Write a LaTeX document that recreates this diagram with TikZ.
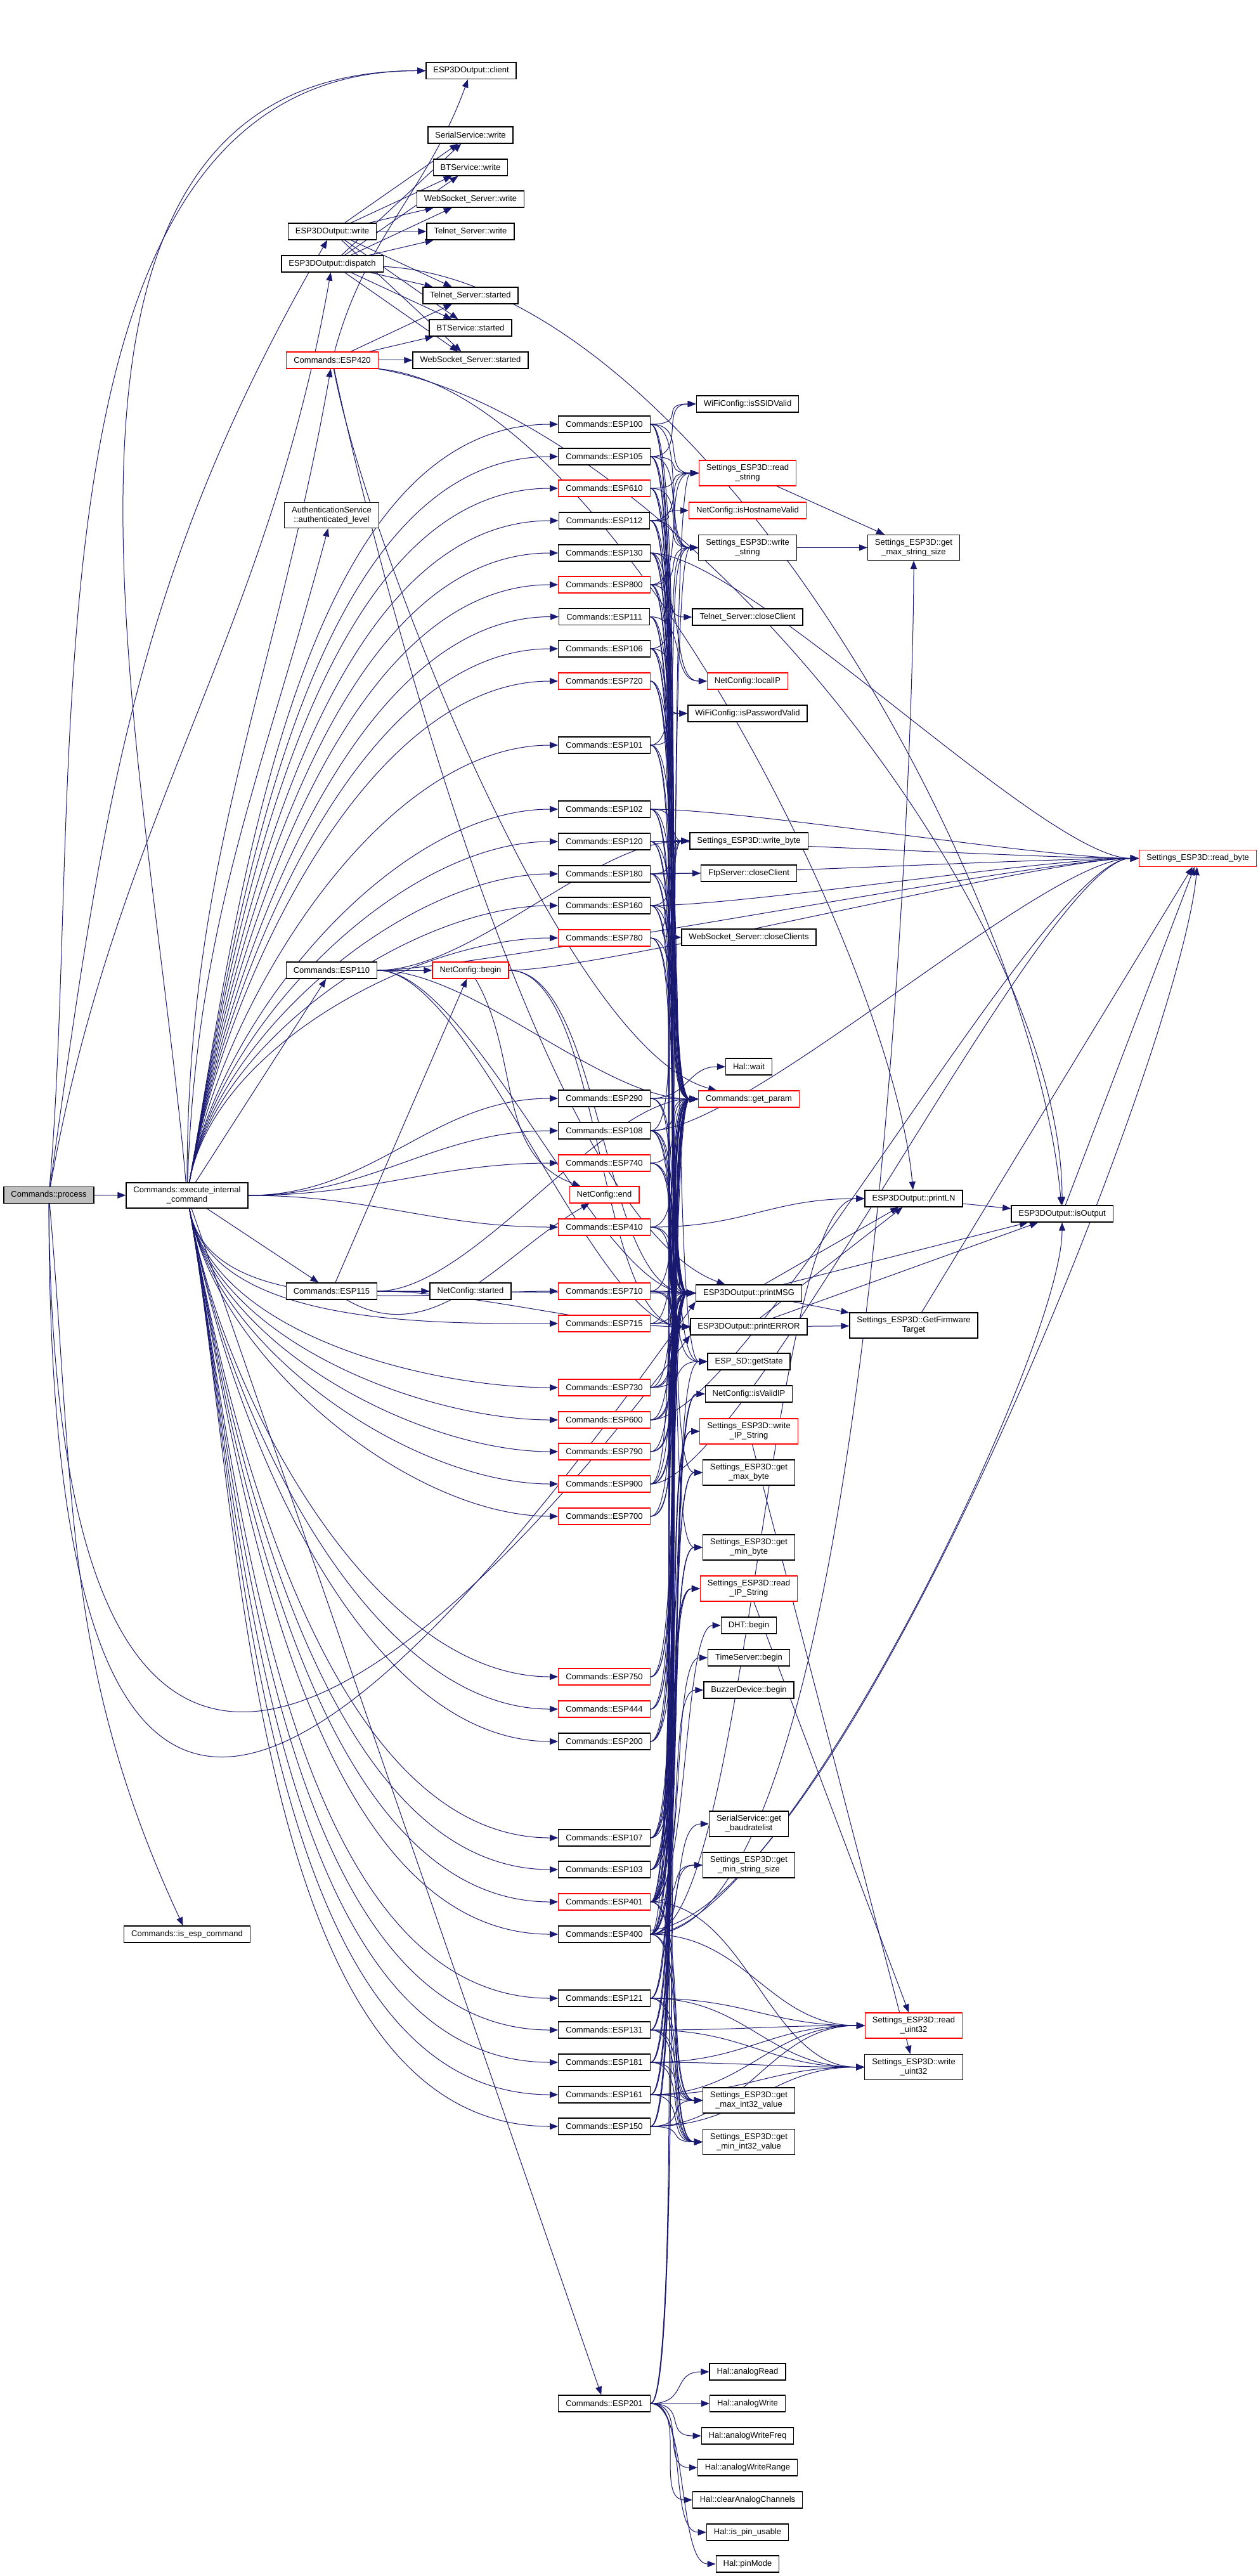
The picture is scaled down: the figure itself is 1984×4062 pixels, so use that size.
\documentclass[tikz,border=0pt]{standalone}
\usepackage{fontspec}
\setmainfont{Liberation Sans}
\usepackage{tikz}
\usetikzlibrary{arrows.meta,backgrounds}
\definecolor{edgeblue}{HTML}{191970}
\newcommand{\graphfont}{\fontsize{2.6}{3}\selectfont}

\begin{document}
\begin{tikzpicture}[x=0.2pt,y=0.2pt]
\tikzstyle{fnbox}=[draw=black,line width=0.26pt,fill=white,inner xsep=2.3pt,inner ysep=0.8pt,minimum height=5.2pt,align=center,font=\graphfont]
\tikzstyle{twoline}=[minimum height=8pt]
\tikzstyle{fntrunc}=[fnbox,draw=red]
\tikzstyle{fnroot}=[fnbox,fill=gray!50]
\tikzstyle{callarr}=[draw=edgeblue,line width=0.2pt,-{Triangle[length=2.6pt,width=2pt]}]
\useasboundingbox (0,0) rectangle (1984,-4062);

% callers
\node[fnroot] (proc) at (77,-1884.5) {Commands::process};
\node[fnbox,twoline] (exec) at (295,-1885) {Commands::execute\_internal\\\_command};
\node[fnbox] (isesp) at (295,-3050) {Commands::is\_esp\_command};

\node[fnbox] (owrite) at (524,-365) {ESP3DOutput::write};
\node[fnbox] (odispatch) at (524,-416) {ESP3DOutput::dispatch};
\node[fntrunc] (e420) at (524,-568) {Commands::ESP420};
\node[fnbox,twoline] (auth) at (523,-812.5) {AuthenticationService\\::authenticated\_level};
\node[fnbox] (e110) at (523,-1530) {Commands::ESP110};
\node[fnbox] (e115) at (523,-2036) {Commands::ESP115};

\node[fnbox] (oclient) at (743,-111.5) {ESP3DOutput::client};
\node[fnbox] (serwrite) at (742,-213) {SerialService::write};
\node[fnbox] (btwrite) at (742,-264) {BTService::write};
\node[fnbox] (wswrite) at (742,-314) {WebSocket\_Server::write};
\node[fnbox] (tnwrite) at (742,-365) {Telnet\_Server::write};
\node[fnbox] (tnstarted) at (742,-466) {Telnet\_Server::started};
\node[fnbox] (btstarted) at (742,-517) {BTService::started};
\node[fnbox] (wsstarted) at (742,-568) {WebSocket\_Server::started};
\node[fntrunc] (netbegin) at (742,-1530) {NetConfig::begin};
\node[fnbox] (netstarted) at (742,-2036) {NetConfig::started};

% commands
\foreach \n/\y/\s in {100/669/fnbox,105/720/fnbox,610/770/fntrunc,112/821/fnbox,130/872/fnbox,
  800/922/fntrunc,111/972.5/fnbox,106/1023/fnbox,720/1074/fntrunc,101/1175/fnbox,102/1276/fnbox,
  120/1327/fnbox,180/1378/fnbox,160/1428/fnbox,780/1479/fntrunc,290/1732/fnbox,108/1783/fnbox,
  740/1834/fntrunc,410/1935/fntrunc,710/2036/fntrunc,715/2087/fntrunc,730/2188/fntrunc,
  600/2239/fntrunc,790/2289/fntrunc,900/2340/fntrunc,700/2391/fntrunc,750/2644/fntrunc,
  444/2695/fntrunc,200/2746/fnbox,107/2898/fnbox,103/2948/fnbox,401/2999/fntrunc,400/3050/fnbox,
  121/3151/fnbox,131/3201/fnbox,181/3252/fnbox,161/3303/fnbox,150/3353/fnbox,201/3790/fnbox}
  \node[\s] (e\n) at (953,-\y) {Commands::ESP\n};
\node[fntrunc] (netend) at (953,-1884) {NetConfig::end};

% callees
\node[fnbox] (ssidvalid) at (1179,-637) {WiFiConfig::isSSIDValid};
\node[fntrunc,twoline] (readstr) at (1179,-746) {Settings\_ESP3D::read\\\_string};
\node[fntrunc] (hostvalid) at (1179,-805) {NetConfig::isHostnameValid};
\node[fnbox,twoline] (writestr) at (1179,-863.5) {Settings\_ESP3D::write\\\_string};
\node[fnbox] (tnclose) at (1179,-973) {Telnet\_Server::closeClient};
\node[fntrunc] (localip) at (1179,-1074) {NetConfig::localIP};
\node[fnbox] (pwvalid) at (1179,-1125) {WiFiConfig::isPasswordValid};
\node[fnbox] (writebyte) at (1181,-1326) {Settings\_ESP3D::write\_byte};
\node[fnbox] (ftpclose) at (1181,-1377) {FtpServer::closeClient};
\node[fnbox] (wsclose) at (1181,-1478) {WebSocket\_Server::closeClients};
\node[fnbox] (halwait) at (1181,-1682) {Hal::wait};
\node[fntrunc] (getparam) at (1181,-1733) {Commands::get\_param};
\node[fnbox] (printmsg) at (1181,-2039) {ESP3DOutput::printMSG};
\node[fnbox] (printerr) at (1181,-2092) {ESP3DOutput::printERROR};
\node[fnbox] (sdstate) at (1181,-2147) {ESP\_SD::getState};
\node[fnbox] (validip) at (1181,-2198) {NetConfig::isValidIP};
\node[fntrunc,twoline] (writeip) at (1181,-2257) {Settings\_ESP3D::write\\\_IP\_String};
\node[fnbox,twoline] (maxbyte) at (1181,-2322) {Settings\_ESP3D::get\\\_max\_byte};
\node[fnbox,twoline] (minbyte) at (1181,-2440) {Settings\_ESP3D::get\\\_min\_byte};
\node[fntrunc,twoline] (readip) at (1181,-2505) {Settings\_ESP3D::read\\\_IP\_String};
\node[fnbox] (dht) at (1181,-2563) {DHT::begin};
\node[fnbox] (timesrv) at (1181,-2614) {TimeServer::begin};
\node[fnbox] (buzzer) at (1181,-2665) {BuzzerDevice::begin};
\node[fnbox,twoline] (baudlist) at (1181,-2876) {SerialService::get\\\_baudratelist};
\node[fnbox,twoline] (minstr) at (1181,-2941) {Settings\_ESP3D::get\\\_min\_string\_size};
\node[fnbox,twoline] (maxint) at (1181,-3312) {Settings\_ESP3D::get\\\_max\_int32\_value};
\node[fnbox,twoline] (minint) at (1181,-3377.5) {Settings\_ESP3D::get\\\_min\_int32\_value};
\foreach \n/\y/\l in {analogread/3740/analogRead,analogwrite/3790/analogWrite,analogfreq/3841/analogWriteFreq,
  analogrange/3891/analogWriteRange,clearanalog/3942/clearAnalogChannels,pinusable/3993/is\_pin\_usable,
  pinmode/4043/pinMode}
  \node[fnbox] (\n) at (1179,-\y) {Hal::\l};

\node[fnbox,twoline] (maxstr) at (1441,-863.5) {Settings\_ESP3D::get\\\_max\_string\_size};
\node[fnbox] (println) at (1441,-1890) {ESP3DOutput::printLN};
\node[fnbox,twoline] (firmware) at (1441,-2090) {Settings\_ESP3D::GetFirmware\\Target};
\node[fntrunc,twoline] (readu32) at (1441,-3194) {Settings\_ESP3D::read\\\_uint32};
\node[fnbox,twoline] (writeu32) at (1441,-3259.5) {Settings\_ESP3D::write\\\_uint32};
\node[fnbox] (isoutput) at (1675,-1914) {ESP3DOutput::isOutput};
\node[fntrunc] (readbyte) at (1889,-1353.5) {Settings\_ESP3D::read\_byte};

\begin{scope}[on background layer]
\fill[white] (0,0) rectangle (1984,-4062);
% process
\draw[callarr] (proc) -- (exec);
\draw[callarr] (proc) to[out=-85,in=115] (isesp);
\draw[callarr] (proc) to[out=85,in=180,looseness=0.9] (oclient);
\draw[callarr] (proc) to[out=82,in=-120] (owrite);
\draw[callarr] (proc) to[out=80,in=-100] (odispatch);
\draw[callarr] (proc.south) .. controls +(0,-1400) and +(-500,-700) .. (printmsg.south west);
\draw[callarr] (proc.south) .. controls +(10,-1250) and +(-450,-600) .. (printerr.south west);

% execute_internal_command
\draw[callarr] (exec) -- (e110);
\draw[callarr] (exec) -- (e115);
\draw[callarr] (exec) -- (e201);
\draw[callarr] (exec) to[out=88,in=-105] (auth);
\draw[callarr] (exec) to[out=90,in=-100] (e420);
\draw[callarr] (exec) to[out=95,in=180] (oclient);
\foreach \t in {e100,e105,e610,e112,e130,e800,e111,e106,e720,e101,e102,e120,e180,e160,e780}
  \draw[callarr] (exec) to[out=80,in=180,looseness=0.8] (\t);
\foreach \t in {e290,e108,e740,e410}
  \draw[callarr] (exec) to[out=0,in=180] (\t);
\foreach \t in {e710,e715,e730,e600,e790,e900,e700,e750,e444,e200,e107,e103,e401,e400,e121,e131,e181,e161,e150}
  \draw[callarr] (exec) to[out=-80,in=180,looseness=0.8] (\t);

% output
\foreach \t in {serwrite,btwrite,wswrite,tnwrite,tnstarted,btstarted,wsstarted} {
  \draw[callarr] (owrite) -- (\t);
  \draw[callarr] (odispatch) -- (\t);
}
\foreach \t in {tnstarted,btstarted,wsstarted}
  \draw[callarr] (e420) -- (\t);
\draw[callarr] (e420) to[out=75,in=-110] (oclient);
\draw[callarr] (e420.south east) to[out=-10,in=90,looseness=0.7] (isoutput);
\draw[callarr] (odispatch) to[out=-3,in=95,looseness=0.7] (isoutput);
\draw[callarr] (e420.south east) to[out=-5,in=95,looseness=0.6] (println);
\draw[callarr] (e420) to[out=-80,in=165,looseness=0.5] (getparam);
\draw[callarr] (e420) to[out=-78,in=160,looseness=0.5] (printmsg);

% network
\draw[callarr] (e110) -- (netbegin);
\draw[callarr] (e115) -- (netstarted);
\draw[callarr] (e115) -- (netbegin);
\draw[callarr] (netbegin) to[out=-60,in=160] (netend);
\draw[callarr] (e115) to[out=-30,in=-150] (netend);

% common calls
\foreach \s in {e100,e105,e610,e112,e130,e800,e111,e106,e720,e101,e102,e120,e180,e160,e780,e290,e108,
  e740,e410,e710,e715,e730,e600,e790,e900,e700,e750,e444,e200,e107,e103,e401,e400,e121,e131,e181,e161,e150,e201}
  \foreach \t in {getparam,printmsg,printerr}
    \draw[callarr] (\s.east) .. controls +(60,0) and +(-60,0) .. (\t.west);

\foreach \s/\t in {e100/ssidvalid,e100/readstr,e100/writestr,e105/ssidvalid,e105/readstr,e105/writestr,
  e610/readstr,e610/writestr,e112/hostvalid,e112/readstr,e112/writestr,e130/writebyte,e130/tnclose,
  e800/readstr,e800/writestr,e800/localip,e111/localip,e106/pwvalid,e106/writestr,e720/sdstate,
  e101/pwvalid,e101/writestr,e102/writebyte,e120/writebyte,e180/writebyte,e180/ftpclose,
  e160/writebyte,e160/wsclose,e290/halwait,e108/writebyte,e108/maxbyte,e108/minbyte,e740/sdstate,
  e710/sdstate,e730/sdstate,e200/sdstate,e900/writebyte,e107/readip,e107/writeip,e107/validip,
  e103/readip,e103/writeip,e103/validip,e401/writebyte,e401/writestr,e401/writeip,e401/validip,
  e401/dht,e401/timesrv,e401/buzzer,e401/maxbyte,e401/minbyte,e401/minstr,e401/maxint,e401/minint,
  e400/readstr,e400/readip,e400/maxbyte,e400/minbyte,e400/baudlist,e400/minstr,e400/maxint,e400/minint,
  e121/maxint,e121/minint,e131/maxint,e131/minint,e181/maxint,e181/minint,e161/maxint,e161/minint,
  e150/maxint,e150/minint,e201/analogread,e201/analogwrite,e201/analogfreq,e201/analogrange,
  e201/clearanalog,e201/pinusable,e201/pinmode}
  \draw[callarr] (\s.east) .. controls +(60,0) and +(-60,0) .. (\t.west);

\foreach \s/\t in {e130/readbyte,e102/readbyte,e120/readbyte,e180/readbyte,e160/readbyte,e108/readbyte,
  e600/readbyte,e900/readbyte,e400/readu32,e400/println,e121/readu32,e121/writeu32,e131/readu32,
  e131/writeu32,e181/readu32,e181/writeu32,e161/readu32,e161/writeu32,e150/readu32,e150/writeu32,
  e401/writeu32,e410/println,e110/readbyte,e110/writebyte,e110/getparam,e110/printmsg,e110/printerr,
  e115/getparam,e115/printmsg,e115/printerr,netbegin/readbyte,netbegin/printmsg,netbegin/printerr}
  \draw[callarr] (\s.east) .. controls +(150,0) and +(-150,0) .. (\t.west);

\draw[callarr] (e400) to[out=0,in=-90,looseness=0.4] (maxstr);
\draw[callarr] (e400) to[out=0,in=-90,looseness=0.4] (isoutput);
\draw[callarr] (e400) to[out=5,in=-95,looseness=0.4] (readbyte);

% settings and output helpers
\foreach \s/\t in {readstr/maxstr,writestr/maxstr,printmsg/println,printmsg/isoutput,printmsg/firmware,
  printerr/println,printerr/isoutput,printerr/firmware,println/isoutput,isoutput/readbyte,
  firmware/readbyte,writeip/writeu32,readip/readu32}
  \draw[callarr] (\s) -- (\t);
\end{scope}
\end{tikzpicture}
\end{document}
